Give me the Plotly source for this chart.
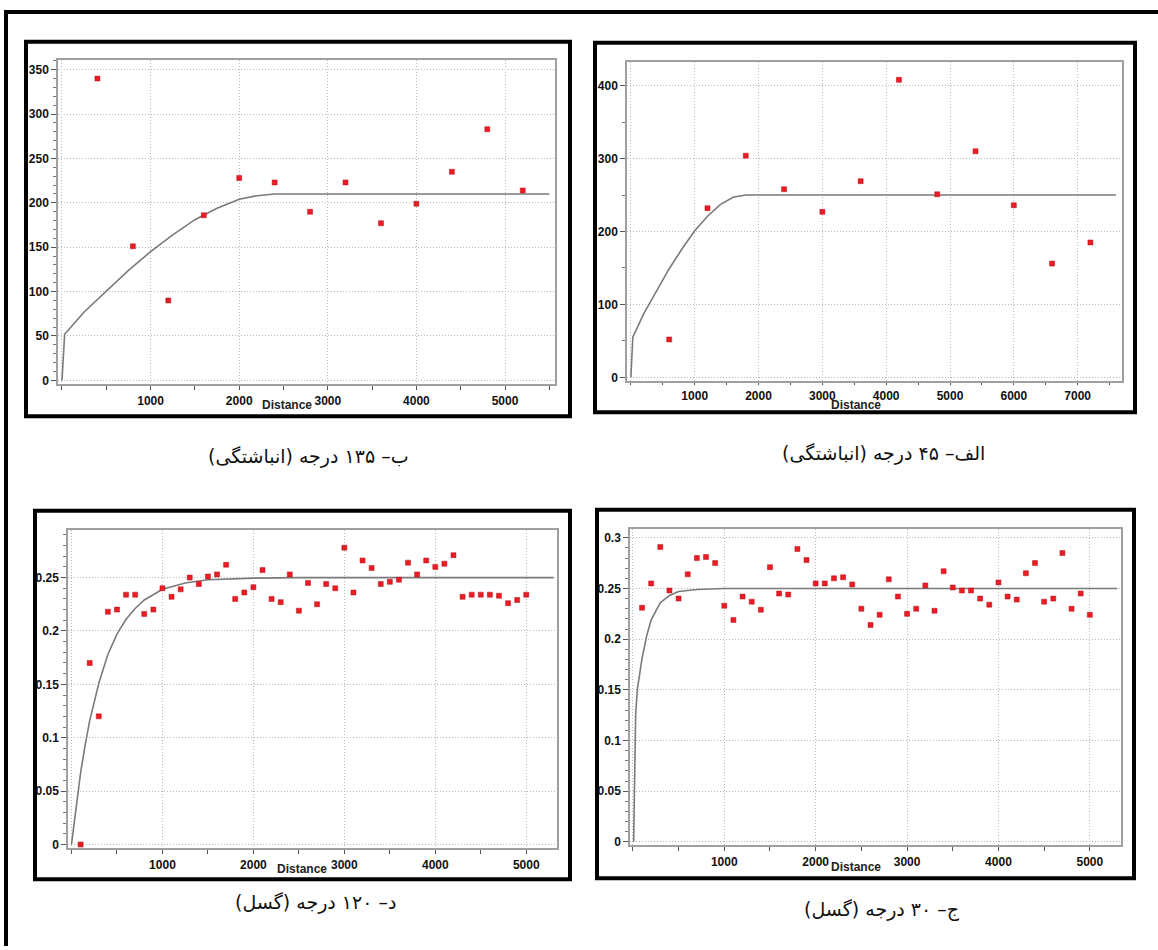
import plotly.graph_objects as go

W, H = 1158, 950

# ---------------- data ----------------
# Panel "ب" : 135 degrees
lag135 = [400, 800, 1200, 1600, 2000, 2400, 2800, 3200, 3600, 4000, 4400, 4800, 5200]
gamma135 = [340, 151, 90, 186, 228, 223, 190, 223, 177, 199, 235, 283, 214]
model135_x = [0, 30, 250, 500, 750, 1000, 1250, 1500, 1750, 2000, 2200, 2400, 5500]
model135_y = [0, 52, 77, 101, 124, 145, 164, 181, 194, 204, 208, 210, 210]

# Panel "الف" : 45 degrees
lag45 = [600, 1200, 1800, 2400, 3000, 3600, 4200, 4800, 5400, 6000, 6600, 7200]
gamma45 = [52, 232, 304, 258, 227, 269, 408, 251, 310, 236, 156, 185]
model45_x = [0, 30, 200, 400, 600, 800, 1000, 1200, 1400, 1600, 1800, 7600]
model45_y = [0, 55, 87, 119, 149, 176, 201, 221, 237, 247, 250, 250]

# Panel "د" : 120 degrees
lag120 = [100, 200, 300, 400, 500, 600, 700, 800, 900, 1000,
          1100, 1200, 1300, 1400, 1500, 1600, 1700, 1800, 1900, 2000,
          2100, 2200, 2300, 2400, 2500, 2600, 2700, 2800, 2900, 3000,
          3100, 3200, 3300, 3400, 3500, 3600, 3700, 3800, 3900, 4000,
          4100, 4200, 4300, 4400, 4500, 4600, 4700, 4800, 4900, 5000]
gamma120 = [0.000, 0.170, 0.120, 0.218, 0.220, 0.234, 0.234, 0.216, 0.220, 0.240,
            0.232, 0.239, 0.250, 0.244, 0.251, 0.253, 0.262, 0.230, 0.236, 0.241,
            0.257, 0.230, 0.227, 0.253, 0.219, 0.245, 0.225, 0.244, 0.240, 0.278,
            0.236, 0.266, 0.259, 0.244, 0.246, 0.248, 0.264, 0.253, 0.266, 0.260,
            0.263, 0.271, 0.232, 0.234, 0.234, 0.234, 0.233, 0.226, 0.229, 0.234]
model120_x = [0, 50, 100, 150, 200, 300, 400, 500, 600, 700, 800, 1000, 1250, 1500, 2000, 2500, 5300]
model120_y = [0, 0.036, 0.067, 0.093, 0.116, 0.151, 0.178, 0.197, 0.211, 0.221, 0.229, 0.239,
              0.245, 0.248, 0.2495, 0.25, 0.25]

# Panel "ج" : 30 degrees
lag30 = [100, 200, 300, 400, 500, 600, 700, 800, 900, 1000,
         1100, 1200, 1300, 1400, 1500, 1600, 1700, 1800, 1900, 2000,
         2100, 2200, 2300, 2400, 2500, 2600, 2700, 2800, 2900, 3000,
         3100, 3200, 3300, 3400, 3500, 3600, 3700, 3800, 3900, 4000,
         4100, 4200, 4300, 4400, 4500, 4600, 4700, 4800, 4900, 5000]
gamma30 = [0.231, 0.255, 0.291, 0.248, 0.240, 0.264, 0.280, 0.281, 0.275, 0.233,
           0.219, 0.242, 0.237, 0.229, 0.271, 0.245, 0.244, 0.289, 0.278, 0.255,
           0.255, 0.260, 0.261, 0.254, 0.230, 0.214, 0.224, 0.259, 0.242, 0.225,
           0.230, 0.253, 0.228, 0.267, 0.251, 0.248, 0.248, 0.240, 0.234, 0.256,
           0.242, 0.239, 0.265, 0.275, 0.237, 0.240, 0.285, 0.230, 0.245, 0.224]
model30_x = [8, 14, 20, 30, 48, 75, 100, 150, 200, 300, 400, 500, 700, 1000, 5300]
model30_y = [0, 0.05, 0.1, 0.125, 0.15, 0.166, 0.181, 0.203, 0.219, 0.236, 0.243, 0.247,
             0.249, 0.25, 0.25]

captions = ["ب– ۱۳۵ درجه (انباشتگی)", "الف– ۴۵ درجه (انباشتگی)",
            "د– ۱۲۰ درجه (گسل)", "ج– ۳۰ درجه (گسل)"]

x_ticks_5k = [0, 1000, 2000, 3000, 4000, 5000]
x_ticks_7k = [0, 1000, 2000, 3000, 4000, 5000, 6000, 7000]
y_ticks_135 = [0, 50, 100, 150, 200, 250, 300, 350]
y_ticks_45 = [0, 100, 200, 300, 400]
y_ticks_120 = [0, 0.05, 0.1, 0.15, 0.2, 0.25]
y_ticks_30 = [0, 0.05, 0.1, 0.15, 0.2, 0.25, 0.3]

# ---------------- layout (pixels) ----------------
panels = [
    dict(lag=lag135, g=gamma135, mx=model135_x, my=model135_y,
         frame=(58, 60, 555, 386), xr=[-45, 5564], yr=[-4.5, 361.2],
         xt=x_ticks_5k, yt=y_ticks_135, ymin=10, box=(26, 42, 570, 418),
         cap=(308, 458), dist=(287, 407), xtl=4),
    dict(lag=lag45, g=gamma45, mx=model45_x, my=model45_y,
         frame=(627, 62, 1122, 383), xr=[-61, 7695], yr=[-5.5, 432.8],
         xt=x_ticks_7k, yt=y_ticks_45, ymin=50, box=(595, 43, 1135, 414),
         cap=(883, 455), dist=(856, 407), xtl=2),
    dict(lag=lag120, g=gamma120, mx=model120_x, my=model120_y,
         frame=(68, 532, 557, 852), xr=[-38.5, 5338], yr=[-0.0037, 0.2948],
         xt=x_ticks_5k, yt=y_ticks_120, ymin=0.01, box=(35, 513, 570, 883),
         cap=(316, 906), dist=(302, 873), xtl=4),
    dict(lag=lag30, g=gamma30, mx=model30_x, my=model30_y,
         frame=(630, 531, 1121, 849), xr=[-31.7, 5341], yr=[-0.0035, 0.3089],
         xt=x_ticks_5k, yt=y_ticks_30, ymin=0.01, box=(597, 512, 1134, 882),
         cap=(882, 913), dist=(856, 871), xtl=4),
]

def px(x):
    return x / W

def py(y):
    return 1 - y / H

def fmt(v):
    return "%g" % v

fig = go.Figure()
shapes = []
annotations = []
tickfont = dict(family="Liberation Sans, Arial, sans-serif", size=12, color="#111", weight="bold")
grid = dict(showgrid=True, gridcolor="#b8b8b8", griddash="1px,2px", gridwidth=1)

for i, p in enumerate(panels, start=1):
    xa = "x" if i == 1 else "x%d" % i
    ya = "y" if i == 1 else "y%d" % i
    fig.add_trace(go.Scatter(x=p["mx"], y=p["my"], mode="lines",
                             line=dict(color="#7a7a7a", width=1.6),
                             xaxis=xa, yaxis=ya, showlegend=False, hoverinfo="skip"))
    fig.add_trace(go.Scatter(x=p["lag"], y=p["g"], mode="markers",
                             marker=dict(symbol="square", size=5, color="#ec1c24",
                                         line=dict(width=0.5, color="#b0101a")),
                             xaxis=xa, yaxis=ya, showlegend=False))
    fx0, fy0, fx1, fy1 = p["frame"]
    xkey = "xaxis" if i == 1 else "xaxis%d" % i
    ykey = "yaxis" if i == 1 else "yaxis%d" % i
    fig.layout[xkey] = dict(
        domain=[px(fx0), px(fx1)], anchor=ya, range=p["xr"],
        tickvals=p["xt"], ticktext=["" if v == 0 else str(v) for v in p["xt"]],
        ticks="outside", ticklen=p["xtl"], tickcolor="#555", tickwidth=1,
        minor=dict(dtick=500, tick0=0, ticklen=p["xtl"], tickcolor="#555", showgrid=False),
        showline=True, mirror=True, linecolor="#a0a0a0", linewidth=1.5,
        zeroline=False, tickfont=tickfont, fixedrange=True, **grid)
    fig.layout[ykey] = dict(
        domain=[py(fy1), py(fy0)], anchor=xa, range=p["yr"],
        tickvals=p["yt"], ticktext=[fmt(v) for v in p["yt"]],
        ticks="outside", ticklen=5, tickcolor="#555", tickwidth=1,
        minor=dict(dtick=p["ymin"], tick0=0, ticklen=3, tickcolor="#777", showgrid=False),
        showline=True, mirror=True, linecolor="#a0a0a0", linewidth=1.5,
        zeroline=False, tickfont=tickfont, fixedrange=True, **grid)
    bx0, by0, bx1, by1 = p["box"]
    shapes.append(dict(type="rect", xref="paper", yref="paper",
                       x0=px(bx0), x1=px(bx1), y0=py(by1), y1=py(by0),
                       line=dict(color="black", width=4)))
    annotations.append(dict(x=px(p["dist"][0]), y=py(p["dist"][1]), xref="paper", yref="paper",
                            text="Distance", showarrow=False, xanchor="center", yanchor="middle",
                            font=dict(family="Liberation Sans, Arial, sans-serif", size=12,
                                      color="#222", weight="bold")))
    annotations.append(dict(x=px(p["cap"][0]), y=py(p["cap"][1]), xref="paper", yref="paper",
                            text="\u200f" + captions[i - 1] + "\u200f", showarrow=False,
                            xanchor="center", yanchor="middle",
                            font=dict(family="DejaVu Sans, Noto Sans, sans-serif", size=19,
                                      color="#111")))

# outer page frame (top and left edges)
shapes.append(dict(type="line", xref="paper", yref="paper", x0=px(4), x1=1, y0=py(12), y1=py(12),
                   line=dict(color="black", width=4)))
shapes.append(dict(type="line", xref="paper", yref="paper", x0=px(6), x1=px(6), y0=py(10), y1=0,
                   line=dict(color="black", width=4)))

fig.update_layout(width=W, height=H, margin=dict(l=0, r=0, t=0, b=0), autosize=False,
                  paper_bgcolor="white", plot_bgcolor="white",
                  shapes=shapes, annotations=annotations, showlegend=False)

fig.write_html("out.html")
